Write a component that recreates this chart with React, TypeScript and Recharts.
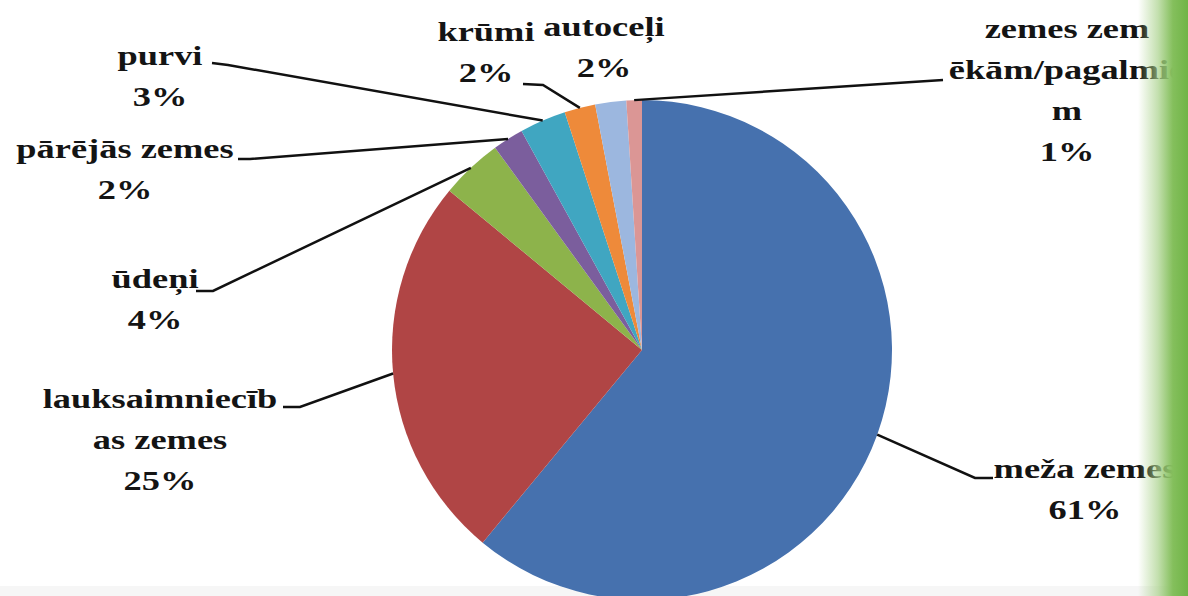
import { PieChart, Pie, Cell } from 'recharts';

const CATEGORIES = [
  'meža zemes',
  'lauksaimniecības zemes',
  'ūdeņi',
  'pārējās zemes',
  'purvi',
  'krūmi',
  'autoceļi',
  'zemes zem ēkām/pagalmiem',
];
const SHARES = [61, 25, 4, 2, 3, 2, 2, 1];
// how Excel wrapped each label
const LABEL_LINES = [
  ['meža zemes'],
  ['lauksaimniecīb', 'as zemes'],
  ['ūdeņi'],
  ['pārējās zemes'],
  ['purvi'],
  ['krūmi'],
  ['autoceļi'],
  ['zemes zem', 'ēkām/pagalmie', 'm'],
];
const COLORS = ['#4671ae', '#b04545', '#8db34b', '#7b5e9d', '#40a6c1', '#ee8a3a', '#9cb7df', '#db9695'];

// label placement: text centre, first baseline, leader elbow (null = no leader)
const LABEL_LAYOUT = [
  { tx: 1085, ty: 478, elbow: [[975, 478], [993, 478]] },
  { tx: 160, ty: 408, elbow: [[300, 407], [283, 407]] },
  { tx: 155, ty: 288, elbow: [[213, 291], [196, 291]] },
  { tx: 125, ty: 158, elbow: [[250, 159], [238, 159]] },
  { tx: 160, ty: 65, elbow: [[228, 65], [212, 63]] },
  { tx: 486, ty: 41, elbow: [[543, 85], [523, 84]] },
  { tx: 604, ty: 36, elbow: null },
  { tx: 1067, ty: 38, elbow: [[943, 80]] },
];

const data = CATEGORIES.map((name, i) => ({ name, value: SHARES[i] }));
const RAD = Math.PI / 180;
const LINE_H = 41;
const STRETCH = 1.3; // the source picture is stretched sideways
const FONT = 'Liberation Serif';

function renderLabel(props: any) {
  const { cx, cy, midAngle, outerRadius, index } = props;
  const layout = LABEL_LAYOUT[index];
  const sx = cx + outerRadius * Math.cos(-midAngle * RAD);
  const sy = cy + outerRadius * Math.sin(-midAngle * RAD);
  const lines = [...LABEL_LINES[index], `${SHARES[index]}%`];
  const pts = layout.elbow ? [[sx, sy], ...layout.elbow] : null;
  return (
    <g key={`lbl-${index}`}>
      {pts && (
        <polyline
          points={pts.map((p) => p.join(',')).join(' ')}
          fill="none"
          stroke="#111"
          strokeWidth={2.5}
        />
      )}
      <g transform={`translate(${layout.tx},${layout.ty}) scale(${STRETCH},1)`}>
        <text
          x={0}
          y={0}
          textAnchor="middle"
          fontFamily={FONT}
          fontWeight="bold"
          fontSize={28}
          fill="#141414"
        >
          {lines.map((l, i) => (
            <tspan key={i} x={0} dy={i === 0 ? 0 : LINE_H}>
              {l}
            </tspan>
          ))}
        </text>
      </g>
    </g>
  );
}

export default function App() {
  return (
    <div style={{ position: 'absolute', left: 0, top: 0, width: 1188, height: 596, background: '#fff', overflow: 'hidden' }}>
      <div style={{ position: 'absolute', left: 0, right: 0, top: 586, bottom: 0, background: '#f6f6f6' }} />
      <PieChart width={1188} height={596} style={{ position: 'absolute', left: 0, top: 0 }}>
        <Pie
          data={data}
          dataKey="value"
          nameKey="name"
          cx={637}
          cy={345}
          outerRadius={250}
          startAngle={90}
          endAngle={-270}
          stroke="none"
          label={renderLabel}
          labelLine={false}
          isAnimationActive={false}
        >
          {data.map((d, i) => (
            <Cell key={d.name} fill={COLORS[i]} />
          ))}
        </Pie>
      </PieChart>
      <div
        style={{
          position: 'absolute',
          left: 1138,
          top: 0,
          width: 50,
          height: 596,
          background: 'linear-gradient(to right, rgba(255,255,255,0) 0%, rgba(170,210,140,0.7) 40%, #84bf5c 70%, #70b447 100%)',
        }}
      />
    </div>
  );
}
